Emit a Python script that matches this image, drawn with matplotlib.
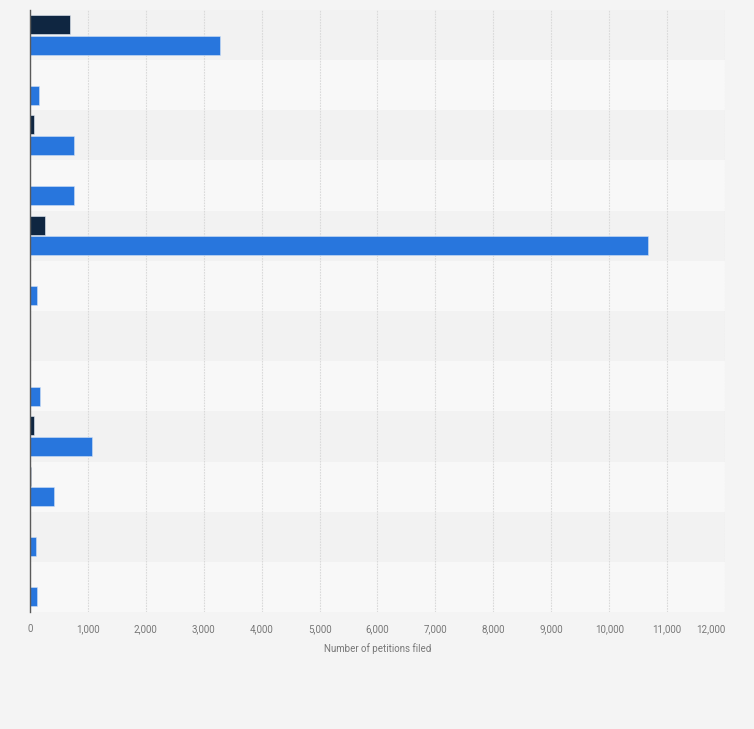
import matplotlib
matplotlib.use("Agg")
import matplotlib.pyplot as plt
import numpy as np

categories = [f"Category {i}" for i in range(1, 13)]
series_dark = [684, 0, 62, 0, 252, 0, 0, 0, 62, 22, 0, 0]
series_blue = [3276, 148, 765, 765, 10670, 126, 0, 178, 1064, 408, 109, 114]
xticks = list(range(0, 12001, 1000))
xlabel = "Number of petitions filed"

plt.rcParams['font.family'] = ['Roboto', 'DejaVu Sans']

fig = plt.figure(figsize=(7.54, 7.29), dpi=100)
fig.patch.set_facecolor('#f4f4f4')
ax = fig.add_axes([30/754, 1-612/729, (725-30)/754, (612-10)/729])
ax.set_facecolor('#f8f8f8')

n = len(categories)
y = np.arange(n)
for i in range(n):
    if i % 2 == 0:
        ax.axhspan(i-0.5, i+0.5, color='#f2f2f2', zorder=0, lw=0)

h = 0.38
dark_c = '#0f2641'
blue_c = '#2876dd'
dv = np.array(series_dark, dtype=float)
bv = np.array(series_blue, dtype=float)
m = dv > 0
ax.barh(y[m]-0.21, dv[m], height=h, color=dark_c, edgecolor='#e8eef8', linewidth=0.4, zorder=3)
m = bv > 0
ax.barh(y[m]+0.2, bv[m], height=h, color=blue_c, edgecolor='#cfe0f7', linewidth=0.4, zorder=3)

ax.set_xlim(0, 12000)
ax.set_ylim(n-0.5, -0.5)
ax.set_yticks([])
ax.set_xticks(xticks)
ax.set_xticklabels([f"{v:,}" for v in xticks])
lbls = ax.get_xticklabels()
lbls[-1].set_horizontalalignment('right')
lbls[-1].set_x(12000)
ax.tick_params(axis='x', length=0, pad=9, labelsize=7, labelcolor='#777777')
ax.grid(axis='x', color='#dadada', linestyle=(0, (1.5, 1)), linewidth=0.8, zorder=1)
for s in ['top', 'right', 'bottom']:
    ax.spines[s].set_visible(False)
ax.spines['left'].set_color('#5a5a5a')
ax.spines['left'].set_linewidth(1.0)
ax.spines['left'].set_zorder(4)
ax.set_xlabel(xlabel, fontsize=7, color='#777777', labelpad=6)

fig.savefig("out.png", dpi=100, facecolor=fig.get_facecolor())
